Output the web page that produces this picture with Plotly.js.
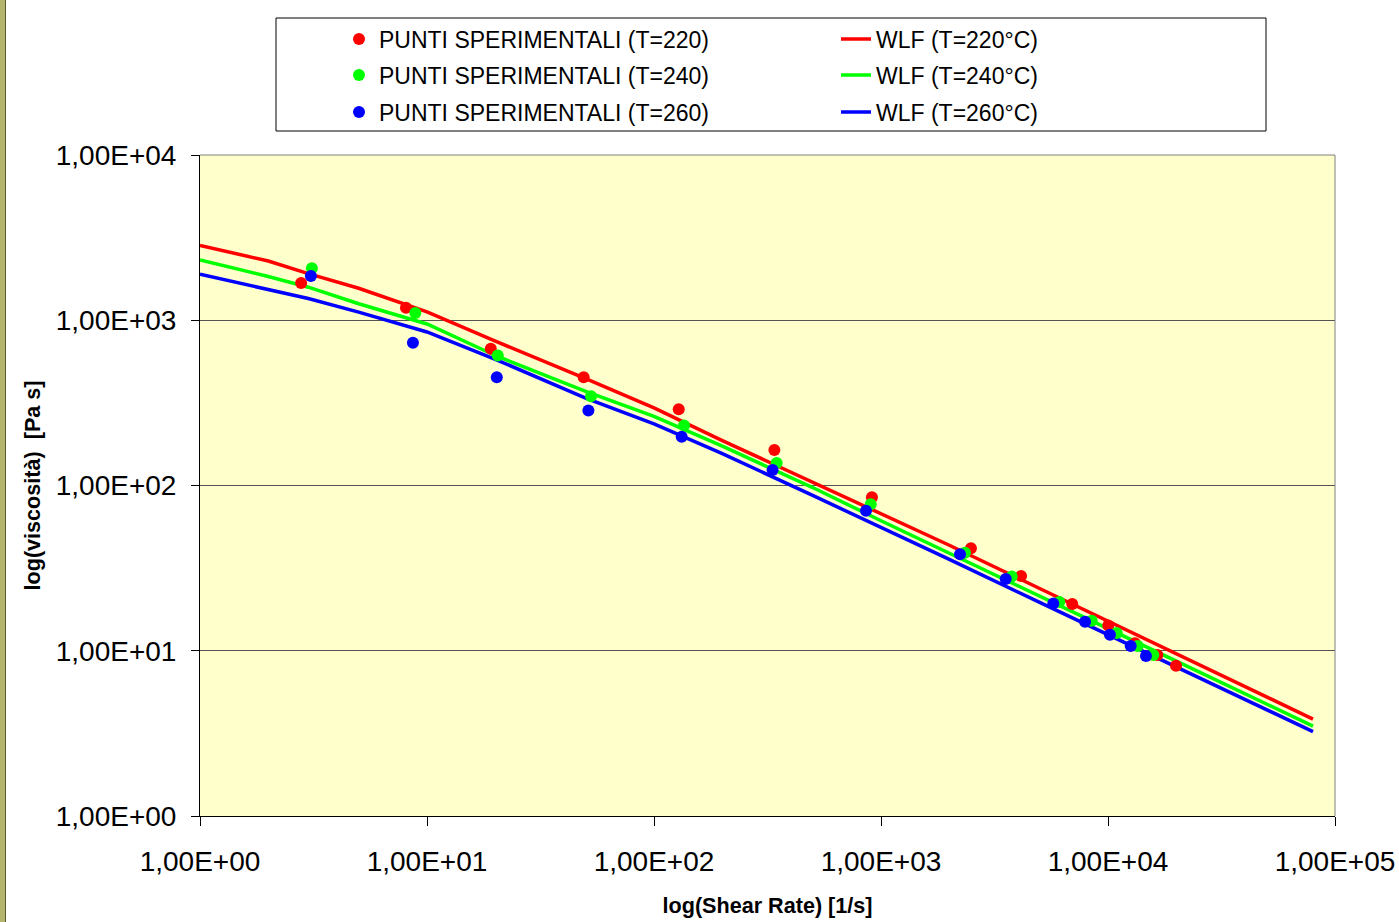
<!DOCTYPE html>
<html><head><meta charset="utf-8">
<script src="https://cdn.plot.ly/plotly-3.0.1.min.js"></script>
<style>
body{margin:0;background:#fff;}
#wrap{position:relative;width:1399px;height:922px;overflow:hidden;}
#strip{position:absolute;left:0;top:0;width:5px;height:922px;background:#B5B46C;border-right:1px solid #5a5a30;z-index:10;}
</style>
</head><body>
<div id="wrap"><div id="chart" style="width:1399px;height:922px;"></div><div id="strip"></div></div>
<script>
// Experimental points
const sr220 = [2.79, 8.08, 19.1, 49.0, 128.5, 339, 912, 2490, 4140, 6960, 10030, 13150, 16490, 19940];
const eta220 = [1680, 1191, 673, 452, 289, 164, 84.9, 41.7, 28.3, 19.2, 14.2, 11.1, 9.43, 8.12];
const sr240 = [3.11, 8.88, 20.5, 52.8, 135.6, 347, 901, 2344, 3766, 6103, 8475, 10920, 13520, 15840];
const eta240 = [2062, 1107, 611, 347, 231, 137, 76.9, 39.2, 28.1, 19.7, 15.2, 12.8, 10.7, 9.43];
const sr260 = [3.08, 8.67, 20.3, 51.4, 132.4, 333, 859, 2229, 3542, 5741, 7924, 10200, 12590, 14700];
const eta260 = [1853, 731, 452, 284, 197, 124, 70.4, 38.4, 27.2, 19.3, 15.0, 12.5, 10.7, 9.3];

// WLF model curves
const lineShear = [1, 2, 3, 5, 10, 20, 50, 100, 200, 500, 1000, 2000, 5000, 10000, 20000, 50000, 80000];
const wlf220 = [2833, 2284, 1914, 1561, 1124, 747, 444, 295, 187, 105, 67.9, 43.5, 23.8, 15.1, 9.6, 5.26, 3.86];
const wlf240 = [2316, 1840, 1585, 1259, 949, 612, 371, 262, 173, 97.2, 61.2, 38.8, 21.4, 13.6, 8.66, 4.76, 3.5];
const wlf260 = [1897, 1546, 1355, 1120, 849, 580, 338, 236, 156, 87.1, 55.9, 35.7, 19.6, 12.5, 7.97, 4.39, 3.24];

const tickVals = [1, 10, 100, 1000, 10000, 100000];
const xTickText = ['1,00E+00', '1,00E+01', '1,00E+02', '1,00E+03', '1,00E+04', '1,00E+05'];
const yTickVals = [1, 10, 100, 1000, 10000];
const yTickText = ['1,00E+00', '1,00E+01', '1,00E+02', '1,00E+03', '1,00E+04'];

const names = {
  p220: 'PUNTI SPERIMENTALI (T=220)', p240: 'PUNTI SPERIMENTALI (T=240)', p260: 'PUNTI SPERIMENTALI (T=260)',
  w220: 'WLF (T=220°C)', w240: 'WLF (T=240°C)', w260: 'WLF (T=260°C)'
};

const RED = '#FF0000', GREEN = '#00FF00', BLUE = '#0000FF';
const FONT = 'Liberation Sans, Arial, sans-serif';

function line(x, y, name, color, leg) {
  return {x: x, y: y, name: name, type: 'scatter', mode: 'lines', line: {color: color, width: 3.5},
    legend: leg, legendrank: 2, hoverinfo: 'x+y'};
}
function pts(x, y, name, color, leg) {
  return {x: x, y: y, name: name, type: 'scatter', mode: 'markers',
    marker: {color: color, size: 12, line: {width: 0}}, legend: leg, legendrank: 1, hoverinfo: 'x+y'};
}

const data = [
  line(lineShear, wlf220, names.w220, RED, 'legend'),
  line(lineShear, wlf240, names.w240, GREEN, 'legend2'),
  line(lineShear, wlf260, names.w260, BLUE, 'legend3'),
  pts(sr220, eta220, names.p220, RED, 'legend'),
  pts(sr240, eta240, names.p240, GREEN, 'legend2'),
  pts(sr260, eta260, names.p260, BLUE, 'legend3')
];

const W = 1135, H = 661, L = 200, T = 155;
function px(xp) { return (xp - L) / W; }
function py(yp) { return (T + H - yp) / H; }

function legendAt(yp) {
  return {orientation: 'h', x: px(339), xanchor: 'left', y: py(yp), yanchor: 'middle',
    entrywidth: 452, entrywidthmode: 'pixels', bgcolor: 'rgba(0,0,0,0)', borderwidth: 0,
    font: {family: FONT, size: 23, color: '#000'}, traceorder: 'normal'};
}

const layout = {
  width: 1399, height: 922,
  margin: {l: L, r: 64, t: T, b: 106},
  paper_bgcolor: '#FFFFFF',
  plot_bgcolor: '#FFFFCC',
  font: {family: FONT, color: '#000'},
  showlegend: true,
  legend: legendAt(39),
  legend2: legendAt(75),
  legend3: legendAt(112),
  xaxis: {
    type: 'log', range: [0, 5], tickvals: tickVals, ticktext: xTickText,
    showgrid: false, zeroline: false, showline: true, linecolor: '#000', linewidth: 1,
    ticks: 'outside', ticklen: 9, tickcolor: '#000', tickwidth: 1,
    tickfont: {family: FONT, size: 28, color: '#000'}, ticklabelstandoff: 11,
    title: {text: 'log(Shear Rate) [1/s]', font: {family: FONT, size: 21.6, color: '#000', weight: 'bold'}, standoff: 22},
    automargin: false
  },
  yaxis: {
    type: 'log', range: [0, 4], tickvals: yTickVals, ticktext: yTickText,
    showgrid: true, gridcolor: '#555555', gridwidth: 1, zeroline: false,
    showline: true, linecolor: '#000', linewidth: 1,
    ticks: 'outside', ticklen: 8, tickcolor: '#000', tickwidth: 1,
    tickfont: {family: FONT, size: 28, color: '#000'}, ticklabelstandoff: 9,
    title: {text: 'log(viscosità)  [Pa s]', font: {family: FONT, size: 21.6, color: '#000', weight: 'bold'}, standoff: 9},
    automargin: false
  },
  shapes: [
    {type: 'line', xref: 'paper', yref: 'paper', x0: 0, x1: 1, y0: 1, y1: 1, line: {color: '#808080', width: 1}},
    {type: 'line', xref: 'paper', yref: 'paper', x0: 1, x1: 1, y0: 0, y1: 1, line: {color: '#808080', width: 1}},
    {type: 'rect', xref: 'paper', yref: 'paper', x0: px(276), x1: px(1266), y0: py(131), y1: py(18),
      line: {color: '#000', width: 1}, fillcolor: 'rgba(0,0,0,0)'}
  ]
};

Plotly.newPlot('chart', data, layout, {displayModeBar: false, staticPlot: true});
</script>
</body></html>
